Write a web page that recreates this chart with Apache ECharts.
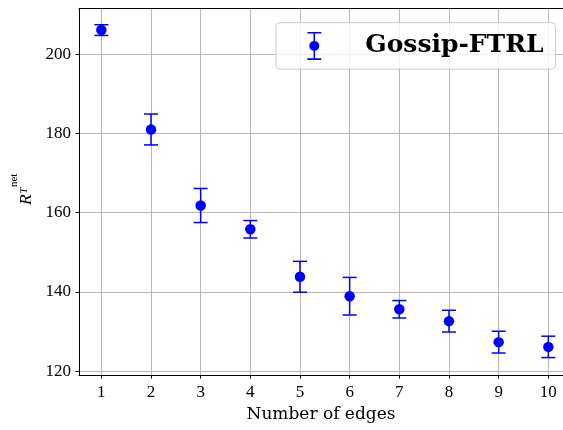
<!DOCTYPE html>
<html>
<head>
<meta charset="utf-8">
<script src="https://cdn.jsdelivr.net/npm/echarts@6/dist/echarts.min.js"></script>
<style>
  html, body { margin: 0; padding: 0; background: #fff; }
  #chart { width: 563px; height: 430px; }
</style>
</head>
<body>
<div id="chart"></div>
<script>
// Number of gossip edges per node
var edges = [1, 2, 3, 4, 5, 6, 7, 8, 9, 10];
// Mean network regret R_T^net for each edge count
var meanRegret = [206.1, 181.0, 161.8, 155.8, 143.8, 138.9, 135.6, 132.6, 127.3, 126.1];
// Half-width of the error bar around each mean
var regretErr = [1.35, 3.9, 4.3, 2.2, 3.9, 4.75, 2.2, 2.75, 2.75, 2.7];
// Tick values on both axes
var xTicks = [1, 2, 3, 4, 5, 6, 7, 8, 9, 10];
var yTicks = [120, 140, 160, 180, 200];
var seriesName = 'Gossip-FTRL';

var BLUE = '#0000ff';
var GRID = '#b8b8b8';
var SERIF = '"Liberation Serif", "Times New Roman", serif';

// x range: the axes box is clipped by the right edge of the canvas
var X_MIN = 0.55, X_MAX = 10.296;
var Y_MIN = 119.0, Y_MAX = 211.6;

var pointData = edges.map(function (e, i) { return [e, meanRegret[i]]; });
var barData = edges.map(function (e, i) {
  return [e, meanRegret[i] - regretErr[i], meanRegret[i] + regretErr[i]];
});

// Legend icon: capped error bar with a dot in the middle
var errIcon = 'path://M0 0H14V1.6H0Z M6.2 0H7.8V28H6.2Z M0 26.4H14V28H0Z M2 14A5 5 0 1 1 12 14A5 5 0 1 1 2 14Z';

var chart = echarts.init(document.getElementById('chart'), null, { renderer: 'canvas' });

chart.setOption({
  animation: false,
  backgroundColor: '#fff',
  grid: { left: 79, top: 8.3, right: 0, bottom: 55, show: false },
  xAxis: [{
    type: 'value',
    min: X_MIN, max: X_MAX,
    name: 'Number of edges',
    nameLocation: 'middle',
    nameGap: 29,
    nameTextStyle: { fontFamily: '"DejaVu Serif", serif', fontSize: 17, color: '#000' },
    axisLine: { show: true, onZero: false, lineStyle: { color: '#000', width: 1 } },
    axisTick: { show: true, customValues: xTicks, length: 3.5, lineStyle: { color: '#000', width: 1 } },
    axisLabel: { customValues: xTicks, margin: 9, fontFamily: SERIF, fontSize: 17, color: '#000' },
    splitLine: { show: true, lineStyle: { color: GRID, width: 1 } }
  }, {
    // top spine
    type: 'value', position: 'top',
    min: X_MIN, max: X_MAX,
    axisLine: { show: true, onZero: false, lineStyle: { color: '#000', width: 1 } },
    axisTick: { show: false }, axisLabel: { show: false }, splitLine: { show: false }
  }],
  yAxis: {
    type: 'value',
    min: Y_MIN, max: Y_MAX,
    axisLine: { show: true, onZero: false, lineStyle: { color: '#000', width: 1 } },
    axisTick: { show: true, customValues: yTicks, length: 3.5, lineStyle: { color: '#000', width: 1 } },
    axisLabel: { customValues: yTicks, margin: 8, fontFamily: SERIF, fontSize: 17, color: '#000' },
    splitLine: { show: true, lineStyle: { color: GRID, width: 1 } }
  },
  legend: {
    data: [{ name: seriesName, icon: errIcon }],
    left: 276, top: 22.7,
    orient: 'vertical',
    itemWidth: 14, itemHeight: 28,
    padding: [9.2, 12, 9.2, 31.3],
    backgroundColor: 'rgba(255,255,255,0.8)',
    borderColor: '#cccccc', borderWidth: 1, borderRadius: 4,
    selectedMode: false,
    textStyle: {
      fontFamily: '"DejaVu Serif", serif', fontWeight: 'bold', fontSize: 25,
      color: '#000', padding: [0, 0, 0, 39], lineHeight: 28
    }
  },
  series: [
    {
      name: 'errbars',
      type: 'custom',
      data: barData,
      z: 2,
      renderItem: function (params, api) {
        var x = api.value(0);
        var lo = api.coord([x, api.value(1)]);
        var hi = api.coord([x, api.value(2)]);
        var half = 7;
        var st = { stroke: BLUE, lineWidth: 1.5, fill: null };
        return {
          type: 'group',
          children: [
            { type: 'line', shape: { x1: lo[0], y1: lo[1], x2: hi[0], y2: hi[1] }, style: st },
            { type: 'line', shape: { x1: lo[0] - half, y1: lo[1], x2: lo[0] + half, y2: lo[1] }, style: st },
            { type: 'line', shape: { x1: hi[0] - half, y1: hi[1], x2: hi[0] + half, y2: hi[1] }, style: st }
          ]
        };
      }
    },
    {
      name: seriesName,
      type: 'scatter',
      data: pointData,
      symbol: 'circle',
      symbolSize: 10.5,
      z: 3,
      itemStyle: { color: BLUE, opacity: 1 }
    }
  ],
  graphic: [
    { type: 'text', x: 26, y: 199.7, rotation: Math.PI / 2, z: 10,
      style: { text: 'R', font: 'italic 17.5px ' + SERIF, fill: '#000', align: 'center', verticalAlign: 'middle' } },
    { type: 'text', x: 24.5, y: 190.7, rotation: Math.PI / 2, z: 10,
      style: { text: 'T', font: 'italic 11px ' + SERIF, fill: '#000', align: 'center', verticalAlign: 'middle' } },
    { type: 'text', x: 14.6, y: 180.3, rotation: Math.PI / 2, z: 10,
      style: { text: 'net', font: '11px ' + SERIF, fill: '#000', align: 'center', verticalAlign: 'middle' } }
  ]
});
</script>
</body>
</html>
